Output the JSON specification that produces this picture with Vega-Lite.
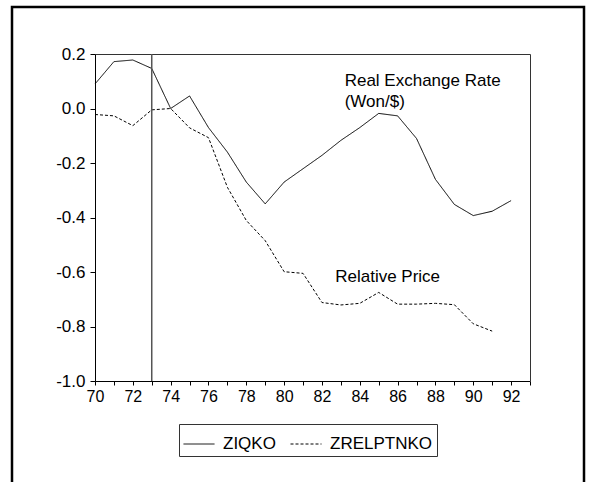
{
  "$schema": "https://vega.github.io/schema/vega-lite/v6.json",
  "width": 572,
  "height": 485,
  "autosize": {"type": "none"},
  "padding": {"left": 12, "top": 7, "right": 5, "bottom": -10},
  "background": "white",
  "config": {
    "view": {"stroke": "black", "strokeWidth": 2.5},
    "font": "Liberation Sans",
    "axis": {"labelFont": "Liberation Sans", "labelColor": "black", "tickColor": "black", "domainColor": "black", "grid": false, "title": null}
  },
  "datasets": {
    "series": [
      {"year": 70, "series": "ZIQKO", "value": 0.09},
      {"year": 71, "series": "ZIQKO", "value": 0.172},
      {"year": 72, "series": "ZIQKO", "value": 0.178},
      {"year": 73, "series": "ZIQKO", "value": 0.147},
      {"year": 74, "series": "ZIQKO", "value": 0.0},
      {"year": 75, "series": "ZIQKO", "value": 0.046},
      {"year": 76, "series": "ZIQKO", "value": -0.07},
      {"year": 77, "series": "ZIQKO", "value": -0.16},
      {"year": 78, "series": "ZIQKO", "value": -0.27},
      {"year": 79, "series": "ZIQKO", "value": -0.35},
      {"year": 80, "series": "ZIQKO", "value": -0.27},
      {"year": 81, "series": "ZIQKO", "value": -0.221},
      {"year": 82, "series": "ZIQKO", "value": -0.172},
      {"year": 83, "series": "ZIQKO", "value": -0.117},
      {"year": 84, "series": "ZIQKO", "value": -0.07},
      {"year": 85, "series": "ZIQKO", "value": -0.018},
      {"year": 86, "series": "ZIQKO", "value": -0.027},
      {"year": 87, "series": "ZIQKO", "value": -0.11},
      {"year": 88, "series": "ZIQKO", "value": -0.26},
      {"year": 89, "series": "ZIQKO", "value": -0.352},
      {"year": 90, "series": "ZIQKO", "value": -0.393},
      {"year": 91, "series": "ZIQKO", "value": -0.377},
      {"year": 92, "series": "ZIQKO", "value": -0.338},
      {"year": 70, "series": "ZRELPTNKO", "value": -0.022},
      {"year": 71, "series": "ZRELPTNKO", "value": -0.027},
      {"year": 72, "series": "ZRELPTNKO", "value": -0.063},
      {"year": 73, "series": "ZRELPTNKO", "value": -0.005},
      {"year": 74, "series": "ZRELPTNKO", "value": 0.0},
      {"year": 75, "series": "ZRELPTNKO", "value": -0.071},
      {"year": 76, "series": "ZRELPTNKO", "value": -0.107},
      {"year": 77, "series": "ZRELPTNKO", "value": -0.289},
      {"year": 78, "series": "ZRELPTNKO", "value": -0.411},
      {"year": 79, "series": "ZRELPTNKO", "value": -0.485},
      {"year": 80, "series": "ZRELPTNKO", "value": -0.599},
      {"year": 81, "series": "ZRELPTNKO", "value": -0.605},
      {"year": 82, "series": "ZRELPTNKO", "value": -0.712},
      {"year": 83, "series": "ZRELPTNKO", "value": -0.721},
      {"year": 84, "series": "ZRELPTNKO", "value": -0.715},
      {"year": 85, "series": "ZRELPTNKO", "value": -0.675},
      {"year": 86, "series": "ZRELPTNKO", "value": -0.718},
      {"year": 87, "series": "ZRELPTNKO", "value": -0.718},
      {"year": 88, "series": "ZRELPTNKO", "value": -0.715},
      {"year": 89, "series": "ZRELPTNKO", "value": -0.72},
      {"year": 90, "series": "ZRELPTNKO", "value": -0.79},
      {"year": 91, "series": "ZRELPTNKO", "value": -0.817}
    ]
  },
  "resolve": {"axis": {"x": "independent", "y": "independent"}},
  "layer": [
    {
      "data": {"name": "series"},
      "mark": {"type": "line", "strokeWidth": 1, "color": "black"},
      "encoding": {
        "x": {
          "field": "year", "type": "quantitative",
          "scale": {"domain": [70, 93], "range": [83, 518], "nice": false, "zero": false},
          "axis": {
            "orient": "bottom", "offset": -111,
            "values": [70,71,72,73,74,75,76,77,78,79,80,81,82,83,84,85,86,87,88,89,90,91,92,93],
            "format": "d",
            "labelExpr": "datum.value % 2 == 0 ? datum.label : ''",
            "tickSize": 4, "labelPadding": 3, "labelFontSize": 16,
            "labelFlush": false, "labelOverlap": false
          }
        },
        "y": {
          "field": "value", "type": "quantitative",
          "scale": {"domain": [-1, 0.2], "range": [374, 47], "nice": false, "zero": false},
          "axis": {
            "orient": "left", "offset": -83,
            "values": [-1, -0.8, -0.6, -0.4, -0.2, 0, 0.2],
            "format": ".1f",
            "labelExpr": "replace(datum.label, '\u2212', '-')",
            "tickSize": 5, "labelPadding": 5, "labelFontSize": 17,
            "labelFlush": false, "labelOverlap": false
          }
        },
        "strokeDash": {
          "field": "series", "type": "nominal",
          "scale": {"domain": ["ZIQKO", "ZRELPTNKO"], "range": [[1, 0], [3, 2]]},
          "legend": {
            "orient": "none", "legendX": 167, "legendY": 417,
            "direction": "horizontal", "title": null,
            "symbolType": "stroke", "symbolSize": 961, "symbolStrokeWidth": 1,
            "symbolStrokeColor": "black",
            "labelFontSize": 17, "labelFont": "Liberation Sans", "labelColor": "black",
            "labelOffset": 8, "columnPadding": 12, "padding": 4,
            "strokeColor": "#333"
          }
        }
      }
    },
    {
      "data": {"values": [{}]},
      "mark": {"type": "rule", "color": "#555", "strokeWidth": 1.5},
      "encoding": {
        "x": {"datum": 73, "type": "quantitative",
          "axis": {"orient": "top", "offset": -47, "labels": false, "ticks": false, "domain": true, "domainColor": "#333"}},
        "y": {"datum": -1, "type": "quantitative",
          "axis": {"orient": "right", "offset": -54, "labels": false, "ticks": false, "domain": true, "domainColor": "#333"}},
        "y2": {"datum": 0.2}
      }
    },
    {
      "data": {"values": [{}]},
      "mark": {"type": "text", "align": "left", "baseline": "alphabetic", "fontSize": 17, "font": "Liberation Sans", "color": "black", "lineHeight": 21},
      "encoding": {
        "x": {"datum": 83.2, "type": "quantitative", "axis": null},
        "y": {"datum": 0.084, "type": "quantitative", "axis": null},
        "text": {"value": ["Real Exchange Rate", "(Won/$)"]}
      }
    },
    {
      "data": {"values": [{}]},
      "mark": {"type": "text", "align": "left", "baseline": "alphabetic", "fontSize": 17, "font": "Liberation Sans", "color": "black"},
      "encoding": {
        "x": {"datum": 82.7, "type": "quantitative", "axis": null},
        "y": {"datum": -0.638, "type": "quantitative", "axis": null},
        "text": {"value": "Relative Price"}
      }
    }
  ]
}
